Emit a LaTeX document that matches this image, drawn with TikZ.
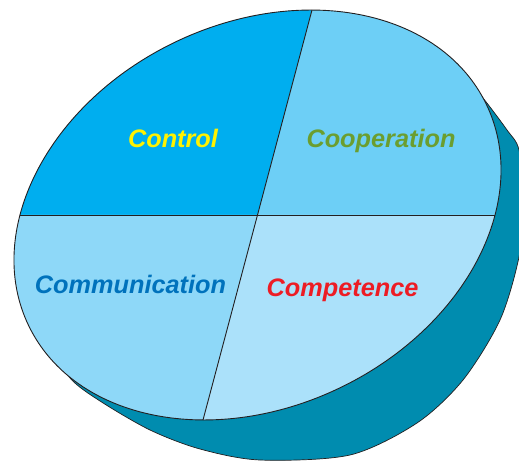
\documentclass[tikz,border=0pt]{standalone}
\usepackage{fontspec}
\setmainfont{Liberation Sans}
\usetikzlibrary{calc}
\definecolor{ctrlfill}{HTML}{00AEEF}
\definecolor{coopfill}{HTML}{6DCFF6}
\definecolor{commfill}{HTML}{8ED8F8}
\definecolor{compfill}{HTML}{ABE1FA}
\definecolor{sidecol}{HTML}{008CAF}
\definecolor{linecol}{HTML}{231F20}
\definecolor{ctrltext}{HTML}{FFF200}
\definecolor{cooptext}{HTML}{6B9E2F}
\definecolor{commtext}{HTML}{0072BC}
\definecolor{comptext}{HTML}{ED1C24}
\begin{document}
\begin{tikzpicture}[x=1pt,y=-1pt,
  wordtext/.style={font=\fontsize{25.3}{30}\selectfont\bfseries\itshape, inner sep=0pt, anchor=base},
  rim/.style={draw=linecol, line width=0.9pt},
  divider/.style={draw=linecol, line width=0.9pt},
  topface/.style={rotate around={25.9:(c)}}]
\clip (0,0) rectangle (519,462);
\coordinate (c) at (257.5,215);
\coordinate (top) at (312,10);
\coordinate (bot) at (203,420);
\coordinate (L) at (20,215);
\coordinate (R) at (495,215);
% side of the disk
\fill[sidecol] plot[smooth] coordinates {(45,338) (70,378) (100,401) (150,430) (200,449) (260,460) (350,455) (417,423) (463,380) (500,320) (519,257) (524,203) (519,150) (507,130) (483,98) (470,84)} -- cycle;
\draw[linecol, line width=0.7pt] plot[smooth] coordinates {(45,338) (70,378) (100,401) (150,430) (200,449) (260,460) (350,455) (417,423) (463,380) (500,320) (519,257) (524,203) (519,150) (507,130) (483,98) (470,84)};
% top face quadrants
\begin{scope}
\clip[topface] (c) ellipse [x radius=254.2pt, y radius=191.5pt];
\fill[ctrlfill] (c) -- ($(c)!2!(top)$) -- (-100,-300) -- (-100,215) -- cycle;
\fill[coopfill] (c) -- ($(c)!2!(top)$) -- (700,-300) -- (700,215) -- cycle;
\fill[commfill] (c) -- ($(c)!2!(bot)$) -- (-100,700) -- (-100,215) -- cycle;
\fill[compfill] (c) -- ($(c)!2!(bot)$) -- (700,700) -- (700,215) -- cycle;
\end{scope}
\draw[divider] (L) -- (R);
\draw[divider] (top) -- (bot);
\draw[rim, topface] (c) ellipse [x radius=254.2pt, y radius=191.5pt];
% labels
\node[wordtext, text=ctrltext] (control) at (173,148) {Control};
\node[wordtext, text=cooptext] (cooperation) at (381,148) {Cooperation};
\node[wordtext, text=commtext] (communication) at (130.5,293) {Communication};
\node[wordtext, text=comptext] (competence) at (342.5,296) {Competence};
\end{tikzpicture}
\end{document}
